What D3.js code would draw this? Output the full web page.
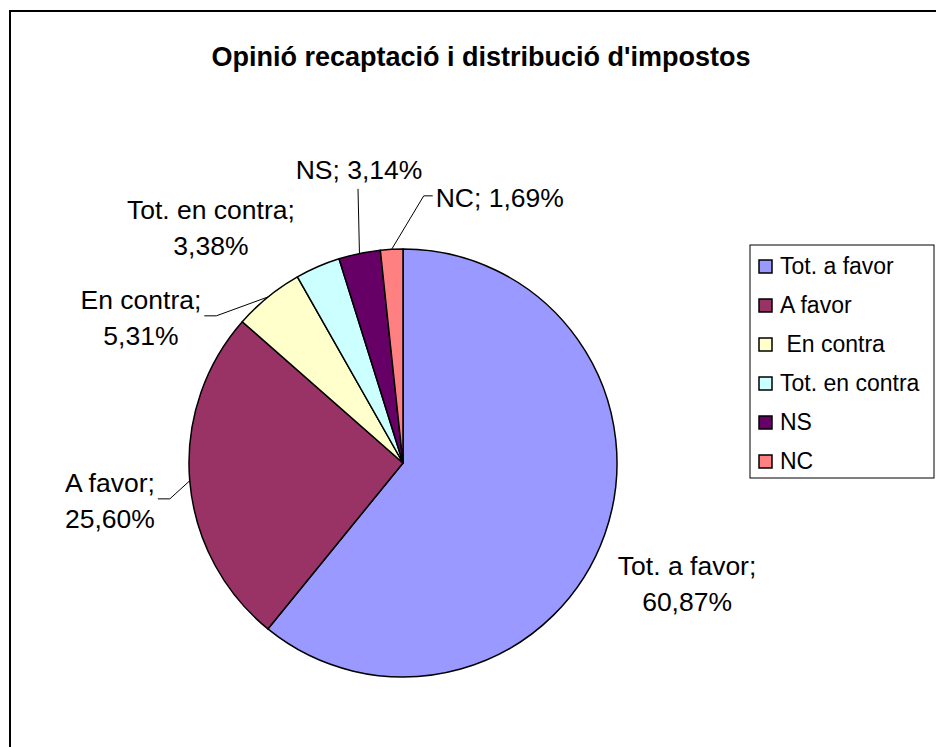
<!DOCTYPE html>
<html>
<head>
<meta charset="utf-8">
<script src="https://cdn.jsdelivr.net/npm/d3@7"></script>
<style>
  body { margin: 0; background: #fff; }
  svg { display: block; font-family: "Liberation Sans", Arial, sans-serif; }
</style>
</head>
<body>
<div id="chart"></div>
<script>
const categories = ["Tot. a favor", "A favor", " En contra", "Tot. en contra", "NS", "NC"];
const values = [60.87, 25.60, 5.31, 3.38, 3.14, 1.69];
const colors = ["#9999FF", "#993366", "#FFFFCC", "#CCFFFF", "#660066", "#FF8080"];
const title = "Opinió recaptació i distribució d'impostos";

// label placement (Excel moved some labels around), relative to slice mid angle
const labelShift = [3.5, -2.6, -21.9, -15.8, 3.2, 23.1];
const labelDist = [1.443, 1.381, 1.40, 1.418, 1.385, 1.319];
const labelWrap = [true, true, true, true, false, false];

function draw() {
  const dimensions = { width: 936, height: 747, radius: 214, cx: 403, cy: 463 };

  const svg = d3.select("#chart")
    .append("svg")
    .attr("width", dimensions.width)
    .attr("height", dimensions.height);

  // chart frame, runs off the right and bottom of the window
  svg.append("rect")
    .attr("x", 10).attr("y", 11)
    .attr("width", 1000).attr("height", 1000)
    .attr("fill", "#fff")
    .attr("stroke", "#000")
    .attr("stroke-width", 2);

  svg.append("text")
    .attr("x", 481).attr("y", 66)
    .attr("text-anchor", "middle")
    .attr("font-weight", "bold")
    .attr("font-size", 27)
    .text(title);

  const pie = d3.pie().sort(null).value(d => d);
  const arcs = pie(values);
  const arc = d3.arc().innerRadius(0).outerRadius(dimensions.radius);

  const bounds = svg.append("g")
    .attr("transform", `translate(${dimensions.cx}, ${dimensions.cy})`);

  bounds.selectAll("path")
    .data(arcs)
    .join("path")
    .attr("d", arc)
    .attr("fill", (d, i) => colors[i])
    .attr("stroke", "#000")
    .attr("stroke-width", 1.5)
    .attr("stroke-linejoin", "round");

  const lineGap = 36;
  const labels = bounds.append("g")
    .attr("font-size", 26.5)
    .attr("text-anchor", "middle")
    .selectAll("g")
    .data(arcs)
    .join("g");

  labels.each(function (d, i) {
    const mid = (d.startAngle + d.endAngle) / 2;
    const a = mid + labelShift[i] * Math.PI / 180;
    const r = labelDist[i] * dimensions.radius;
    const x = r * Math.sin(a);
    const y = -r * Math.cos(a);
    const name = categories[i].trim() + ";";
    const pct = d3.format(".2f")(values[i]).replace(".", ",") + "%";
    const lines = labelWrap[i] ? [name, pct] : [name + " " + pct];
    const g = d3.select(this);
    lines.forEach((t, k) => {
      g.append("text")
        .attr("x", x)
        .attr("y", y + (k - (lines.length - 1) / 2) * lineGap + 9)
        .text(t);
    });

    // leader line from slice edge to label
    const box = this.getBBox();
    const ex = dimensions.radius * Math.sin(mid);
    const ey = -dimensions.radius * Math.cos(mid);
    const nx = Math.max(box.x, Math.min(ex, box.x + box.width));
    const ny = Math.max(box.y, Math.min(ey, box.y + box.height));
    if (Math.hypot(ex - nx, ey - ny) < 25) return;
    const bcy = box.y + box.height / 2 - 2;
    let pts;
    if (ex >= box.x && ex <= box.x + box.width) {
      pts = [[box.x + box.width / 2 - 1, box.y + box.height + 4], [ex, ey]];
    } else if (ex > box.x + box.width) {
      pts = [[box.x + box.width + 3, bcy], [box.x + box.width + 15, bcy], [ex, ey]];
    } else {
      pts = [[box.x - 3, bcy], [box.x - 12, bcy], [ex, ey]];
    }
    bounds.append("path")
      .attr("d", d3.line()(pts))
      .attr("fill", "none")
      .attr("stroke", "#000")
      .attr("stroke-width", 1);
  });

  // legend
  const legend = svg.append("g");
  legend.append("rect")
    .attr("x", 750).attr("y", 245)
    .attr("width", 184).attr("height", 233)
    .attr("fill", "#fff")
    .attr("stroke", "#000")
    .attr("stroke-width", 1);

  const rows = legend.selectAll("g.row")
    .data(categories)
    .join("g")
    .attr("class", "row")
    .attr("transform", (d, i) => `translate(759, ${266 + i * 39})`);

  rows.append("rect")
    .attr("x", 0).attr("y", -6)
    .attr("width", 13).attr("height", 13)
    .attr("fill", (d, i) => colors[i])
    .attr("stroke", "#000")
    .attr("stroke-width", 1.5);

  rows.append("text")
    .attr("x", 21).attr("y", 8)
    .attr("font-size", 23)
    .style("white-space", "pre")
    .text(d => d);
}
draw();
</script>
</body>
</html>
